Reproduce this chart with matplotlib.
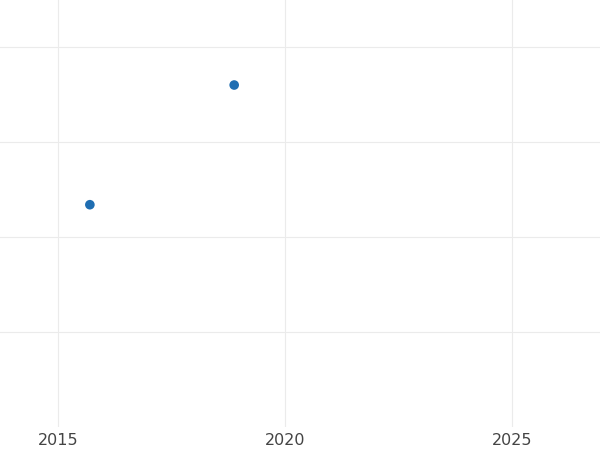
import matplotlib
matplotlib.use("Agg")
import matplotlib.pyplot as plt

# data
years = [2015.70, 2018.88]
values = [2.34, 3.60]
x_ticks = [2015, 2020, 2025]
y_ticks = [1, 2, 3, 4]

POINT_CLR, GRID_CLR, TEXT_CLR = '#1f6eb2', '#ebebeb', '#444444'

fig = plt.figure(figsize=(6, 4.5), dpi=100)
ax = fig.add_axes([0, 23 / 450, 1, 427 / 450])
ax.scatter(years, values, s=48, color=POINT_CLR, edgecolors='none', zorder=3)

ax.set_xlim(2013.72, 2026.94)
ax.set_ylim(0, 4.495)
ax.set_xticks(x_ticks)
ax.set_xticklabels([str(t) for t in x_ticks])
ax.set_yticks(y_ticks)
ax.set_yticklabels([])
ax.grid(True, color=GRID_CLR, lw=0.8)
ax.set_axisbelow(True)
ax.tick_params(length=0, labelsize=11.5, labelcolor=TEXT_CLR, pad=4)
ax.tick_params(axis='y', left=False)
for s in ax.spines.values():
    s.set_visible(False)

plt.savefig('out.png', dpi=100, facecolor='white')
plt.close()
